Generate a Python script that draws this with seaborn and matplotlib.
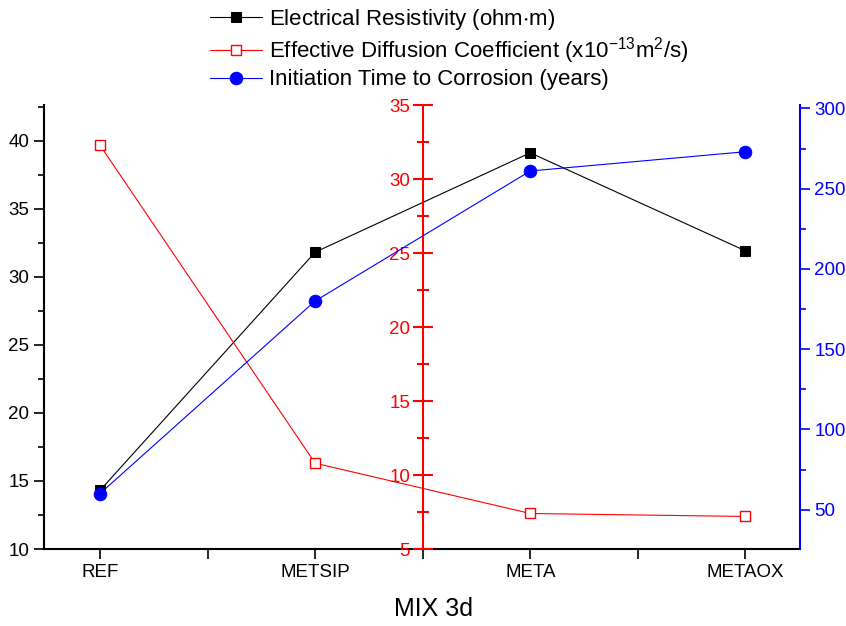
import matplotlib
matplotlib.use('Agg')
import matplotlib.pyplot as plt
import seaborn as sns
from matplotlib.ticker import MultipleLocator

# values
mixes = ['REF', 'METSIP', 'META', 'METAOX']
resistivity = [14.3, 31.8, 39.1, 31.9]      # ohm·m, left axis
diffusion = [32.3, 10.8, 7.4, 7.2]          # x10^-13 m2/s, red middle axis
initiation = [60, 180, 261, 273]            # years, blue right axis

lbl_res = 'Electrical Resistivity (ohm$\\cdot$m)'
lbl_dif = 'Effective Diffusion Coefficient (x10$^{\\mathregular{-13}}$m$^{\\mathregular{2}}$/s)'
lbl_ini = 'Initiation Time to Corrosion (years)'

sns.set_style('ticks')
plt.rcParams['font.family'] = ['Liberation Sans', 'DejaVu Sans']
plt.rcParams['mathtext.default'] = 'regular'
for k in ['text.color', 'axes.labelcolor', 'axes.edgecolor', 'xtick.color', 'ytick.color']:
    plt.rcParams[k] = 'black'

fig = plt.figure(figsize=(8.46, 6.26), dpi=100)
ax = fig.add_axes([0.052, 0.123, 0.894, 0.709])
ax_red = ax.twinx()
ax_blue = ax.twinx()

sns.lineplot(x=mixes, y=resistivity, ax=ax, color='black', lw=0.8,
             marker='s', markersize=7.5, markeredgecolor='black', legend=False)
sns.lineplot(x=mixes, y=diffusion, ax=ax_red, color='red', lw=0.8,
             marker='s', markersize=7.5, markerfacecolor='white',
             markeredgecolor='red', markeredgewidth=1.0, legend=False)
sns.lineplot(x=mixes, y=initiation, ax=ax_blue, color='blue', lw=0.8,
             marker='o', markersize=9, markeredgecolor='blue', legend=False)

# main (left) axis
ax.set_xlim(-0.26, 3.255)
ax.set_ylim(10, 42.6)
ax.yaxis.set_major_locator(MultipleLocator(5))
ax.yaxis.set_minor_locator(MultipleLocator(2.5))
ax.xaxis.set_minor_locator(MultipleLocator(0.5))
ax.spines['top'].set_visible(False)
ax.spines['right'].set_visible(False)
for s in ['left', 'bottom']:
    ax.spines[s].set_linewidth(1.5)
ax.tick_params(axis='both', which='major', length=7, width=1.2, labelsize=13.5, direction='out')
ax.tick_params(axis='both', which='minor', length=7, width=1.2, direction='out')
ax.tick_params(axis='y', which='minor', length=4)
ax.set_xlabel('MIX 3d', fontsize=18, labelpad=12)
ax.xaxis.label.set_x(0.515)
ax.set_ylabel('')

# red axis in the middle
ax_red.set_ylim(5, 35)
ax_red.yaxis.set_major_locator(MultipleLocator(5))
ax_red.yaxis.set_minor_locator(MultipleLocator(2.5))
for s in ['top', 'bottom', 'right']:
    ax_red.spines[s].set_visible(False)
ax_red.spines['left'].set_position(('data', 1.5))
ax_red.spines['left'].set_color('red')
ax_red.spines['left'].set_linewidth(1.5)
ax_red.yaxis.set_ticks_position('left')
ax_red.tick_params(axis='y', which='major', colors='red', direction='inout',
                   length=14, width=1.5, labelsize=13.5, pad=2)
ax_red.tick_params(axis='y', which='minor', colors='red', direction='inout',
                   length=8, width=1.5)
ax_red.set_ylabel('')

# blue axis on the right
ax_blue.set_ylim(25.5, 302)
ax_blue.set_yticks([50, 100, 150, 200, 250, 300])
ax_blue.yaxis.set_minor_locator(MultipleLocator(25))
for s in ['top', 'bottom', 'left']:
    ax_blue.spines[s].set_visible(False)
ax_blue.spines['right'].set_color('blue')
ax_blue.spines['right'].set_linewidth(1.5)
ax_blue.tick_params(axis='y', which='major', colors='blue', direction='out',
                    length=7, width=1.2, labelsize=13.5, pad=3)
ax_blue.tick_params(axis='y', which='minor', colors='blue', direction='out',
                    length=4, width=1.2)
ax_blue.set_ylabel('')

handles = [ax.get_lines()[0], ax_red.get_lines()[0], ax_blue.get_lines()[0]]
fig.legend(handles, [lbl_res, lbl_dif, lbl_ini], loc='upper left',
           bbox_to_anchor=(0.2246, 1.021), frameon=False, fontsize=16,
           handlelength=2.35, labelspacing=0.15, handletextpad=0.3)

fig.savefig('out.png', dpi=100)
